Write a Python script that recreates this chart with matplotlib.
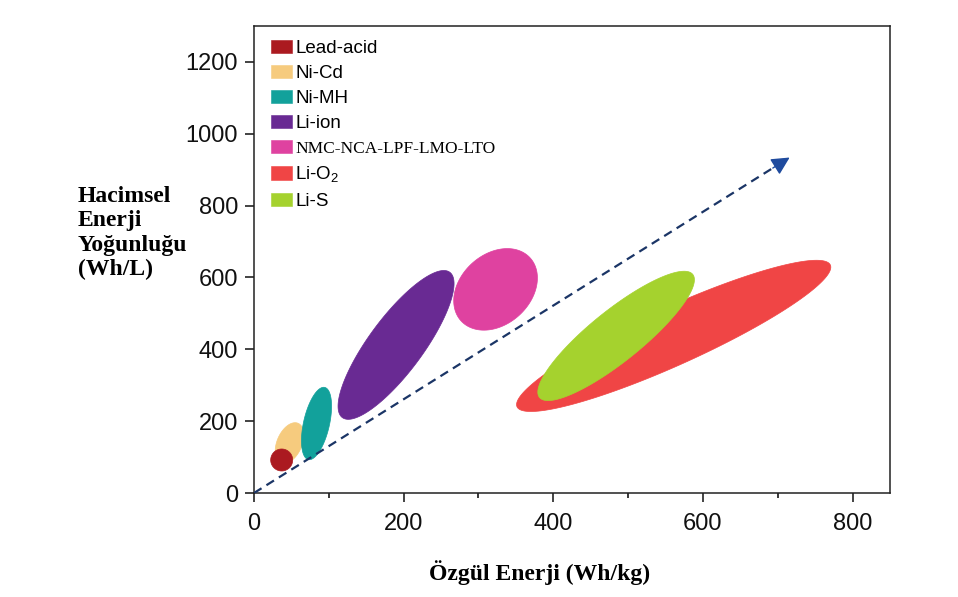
import numpy as np
import matplotlib.pyplot as plt
from matplotlib.patches import Patch, Polygon

plt.rcParams['font.family'] = ['Liberation Sans', 'DejaVu Sans']
plt.rcParams['mathtext.fontset'] = 'custom'
plt.rcParams['mathtext.rm'] = 'Liberation Sans'

# battery chemistries: major axis of each ellipse (Wh/kg, Wh/L) + minor/major ratio
names = ['Lead-acid', 'Ni-Cd', 'Ni-MH', 'Li-ion', 'NMC-NCA-LPF-LMO-LTO',
         'Li-O$_\\mathregular{2}$', 'Li-S']
spec_lo = [22.3, 36.0, 72.6, 118.0, 276.7, 351.5, 381.5]
spec_hi = [51.7, 59.0, 94.5, 261.7, 369.0, 770.3, 586.4]
dens_lo = [91.9, 84.0, 93.0, 210.0, 479.1, 240.0, 266.0]
dens_hi = [91.9, 194.0, 294.0, 614.5, 654.6, 634.7, 608.6]
ratio = [1.0, 0.58, 0.35, 0.3, 0.75, 0.168, 0.26]
colors = ['#ab1a20', '#f6cb7e', '#12a19b', '#692a93', '#df42a0', '#f04545', '#a5d22e']
order = [1, 0, 2, 3, 4, 5, 6]   # drawing order (Li-S over Li-O2, lead over Ni-Cd)

# trend arrow
arrow_start = (0, 0)
arrow_end = (719, 938)

fig = plt.figure(figsize=(9.58, 5.97), dpi=100)
ax = fig.add_axes([254/958, 104/597, 636/958, 467/597])
ax.set_xlim(0, 850)
ax.set_ylim(0, 1300)

T = ax.transData
Tinv = T.inverted()
t = np.linspace(0, 2*np.pi, 200)
for i in order:
    # build ellipse in pixel space so it keeps its shape, then back to data
    p1 = T.transform((spec_lo[i], dens_lo[i]))
    p2 = T.transform((spec_hi[i], dens_hi[i]))
    c = (p1 + p2) / 2
    u = (p2 - p1) / 2
    a = np.hypot(u[0], u[1])
    u = u / a
    v = np.array([-u[1], u[0]])
    b = a * ratio[i]
    pts = c + np.outer(a*np.cos(t), u) + np.outer(b*np.sin(t), v)
    ax.add_patch(Polygon(Tinv.transform(pts), closed=True, fc=colors[i],
                         ec=colors[i], lw=0.5, zorder=2))

ax.plot([arrow_start[0], arrow_end[0]*0.985], [arrow_start[1], arrow_end[1]*0.985],
        color='#1b3566', lw=1.6, ls=(0, (4, 2.6)), zorder=3)
ax.annotate('', xy=arrow_end, xytext=(arrow_end[0]*0.96, arrow_end[1]*0.96),
            arrowprops=dict(arrowstyle='-|>,head_length=0.55,head_width=0.28',
                            mutation_scale=20, color='#1f4b9e', lw=1.0),
            zorder=4)

handles = [Patch(fc=colors[i], ec=colors[i], lw=0.4) for i in range(len(names))]
leg = ax.legend(handles, names, loc='upper left', bbox_to_anchor=(0.009, 0.995),
                frameon=False, fontsize=13.5, handlelength=1.1, handleheight=0.7,
                handletextpad=0.2, labelspacing=0.42, borderaxespad=0.2)
leg.get_texts()[4].set_fontfamily('Liberation Serif')
leg.get_texts()[4].set_fontsize(12.5)

for s in ax.spines.values():
    s.set_linewidth(1.1)
    s.set_color('#222222')
ax.set_xticks([0, 200, 400, 600, 800])
ax.set_xticks([100, 300, 500, 700], minor=True)
ax.set_yticks(range(0, 1201, 200))
ax.tick_params(axis='both', which='major', direction='out', length=6.5, width=1.1,
               labelsize=17, colors='#111111')
ax.tick_params(axis='x', which='major', pad=8)
ax.tick_params(axis='y', which='major', pad=5)
ax.tick_params(axis='x', which='minor', direction='out', length=3.5, width=1.1)

fig.text(78/958, 1 - 233/597, 'Hacimsel\nEnerji\nYoğunluğu\n(Wh/L)',
         ha='left', va='center', fontsize=17, fontweight='bold',
         family='Liberation Serif', linespacing=1.2)
fig.text(540/958, 17/597, 'Özgül Enerji (Wh/kg)', ha='center', va='baseline',
         fontsize=17, fontweight='bold', family='Liberation Serif')

fig.savefig('out.png', dpi=100)
